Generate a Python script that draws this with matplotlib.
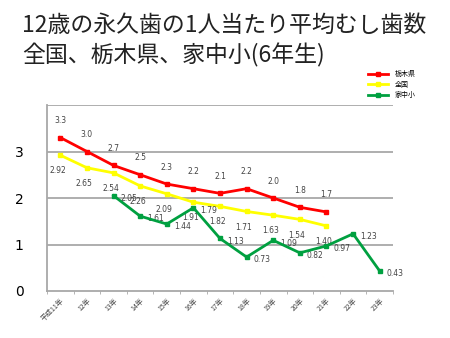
import matplotlib
matplotlib.use("Agg")
import matplotlib.pyplot as plt

plt.rcParams['font.family'] = ['Noto Sans CJK JP', 'DejaVu Sans']

categories = ["平成11年", "12年", "13年", "14年", "15年", "16年", "17年",
              "18年", "19年", "20年", "21年", "22年", "23年"]
tochigi = [3.3, 3.0, 2.7, 2.5, 2.3, 2.2, 2.1, 2.2, 2.0, 1.8, 1.7]
zenkoku = [2.92, 2.65, 2.54, 2.26, 2.09, 1.91, 1.82, 1.71, 1.63, 1.54, 1.40]
iechu = [2.05, 1.61, 1.44, 1.79, 1.13, 0.73, 1.09, 0.82, 0.97, 1.23, 0.43]
iechu_start = 2

series_names = ["栃木県", "全国", "家中小"]
colors = ["#ff0000", "#ffff00", "#00a040"]

fig = plt.figure(figsize=(4.5, 3.38), dpi=100)
fig.patch.set_facecolor("white")
ax = fig.add_axes([47/450, 1-291/338, 346/450, 186/338])

x_t = list(range(len(tochigi)))
x_z = list(range(len(zenkoku)))
x_i = list(range(iechu_start, iechu_start + len(iechu)))

ax.plot(x_t, tochigi, color=colors[0], lw=2, marker='s', ms=3.5, label=series_names[0], zorder=3)
ax.plot(x_z, zenkoku, color=colors[1], lw=2, marker='s', ms=3.5, label=series_names[1], zorder=3)
ax.plot(x_i, iechu, color=colors[2], lw=2, marker='s', ms=3.5, label=series_names[2], zorder=4)

lab_kw = dict(fontsize=5.5, color="#444444", family=['DejaVu Sans'])
for x, v in zip(x_t, tochigi):
    ax.annotate(f"{v:.1f}", (x, v), xytext=(0, 9), textcoords="offset points", ha="center", va="bottom", **lab_kw)
for x, v in zip(x_z, zenkoku):
    ax.annotate(f"{v:.2f}", (x, v), xytext=(-2, -8), textcoords="offset points", ha="center", va="top", **lab_kw)
for x, v in zip(x_i, iechu):
    ax.annotate(f"{v:.2f}", (x, v), xytext=(5, -2), textcoords="offset points", ha="left", va="center", **lab_kw)

ax.set_xlim(-0.5, len(categories) - 0.5)
ax.set_ylim(0, 4)
ax.set_yticks([0, 1, 2, 3])
ax.set_yticklabels(["0", "1", "2", "3"], fontsize=10, family=['DejaVu Sans'])
for y in [1, 2, 3, 4]:
    ax.axhline(y, color="#a8a8a8", lw=1.3, zorder=1)
ax.tick_params(axis='y', length=0, pad=17)
ax.set_xticks([i - 0.5 for i in range(len(categories) + 1)], minor=True)
ax.set_xticks(range(len(categories)))
ax.set_xticklabels(categories, rotation=45, ha="right", va="top", fontsize=5, color="#444444",
                   rotation_mode="anchor")
ax.tick_params(axis='x', which='major', length=0, pad=4)
ax.tick_params(axis='x', which='minor', length=2, color="#a8a8a8")
for s in ["top", "right"]:
    ax.spines[s].set_visible(False)
for s in ["left", "bottom"]:
    ax.spines[s].set_color("#a8a8a8")
    ax.spines[s].set_linewidth(1.3)

fig.text(22/450, 1-25/338, "12歳の永久歯の1人当たり平均むし歯数", fontsize=16.5, va="center", ha="left", color="#222222")
fig.text(22/450, 1-55/338, "全国、栃木県、家中小(6年生)", fontsize=16.5, va="center", ha="left", color="#222222")

leg = fig.legend(loc="upper left", bbox_to_anchor=(362/450, 1-64/338), frameon=False,
                 fontsize=5, handlelength=2.8, labelspacing=0.35, handletextpad=1.0)

fig.savefig("out.png", dpi=100, facecolor="white")
